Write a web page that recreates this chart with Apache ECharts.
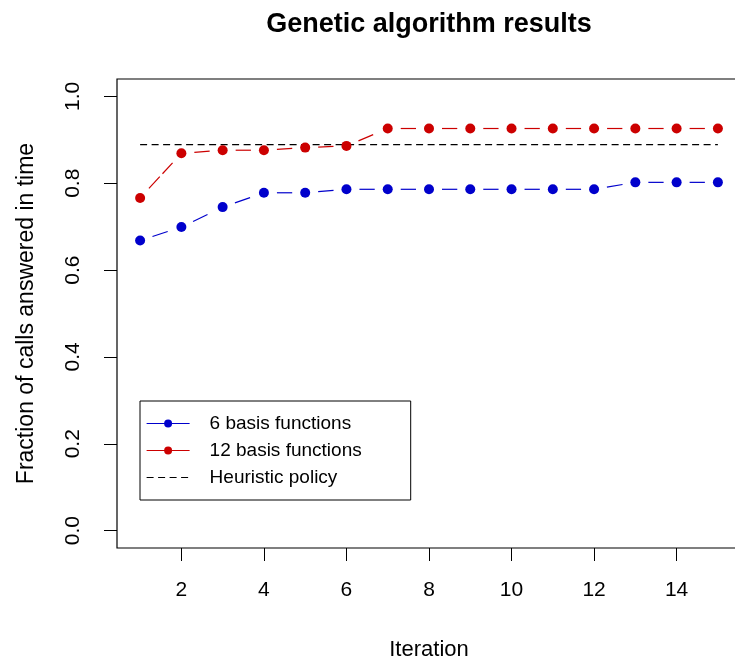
<!DOCTYPE html>
<html>
<head>
<meta charset="utf-8">
<title>Genetic algorithm results</title>
<script src="https://cdn.jsdelivr.net/npm/echarts@6/dist/echarts.min.js"></script>
<style>
  html, body { margin: 0; padding: 0; background: #fff; }
  #chart { width: 735px; height: 660px; }
</style>
</head>
<body>
<div id="chart"></div>
<script>
// Iterations of the genetic algorithm
const iterations = [1, 2, 3, 4, 5, 6, 7, 8, 9, 10, 11, 12, 13, 14, 15];
// Fraction of calls answered in time for each policy
const basis6  = [0.668, 0.699, 0.745, 0.778, 0.778, 0.786, 0.786, 0.786, 0.786, 0.786, 0.786, 0.786, 0.802, 0.802, 0.802];
const basis12 = [0.766, 0.869, 0.876, 0.876, 0.882, 0.886, 0.926, 0.926, 0.926, 0.926, 0.926, 0.926, 0.926, 0.926, 0.926];
const heuristicValue = 0.889;
// Axis ticks
const xTicks = [2, 4, 6, 8, 10, 12, 14];
const yTicks = [0, 0.2, 0.4, 0.6, 0.8, 1.0];

const BLUE = '#0000cc';
const RED = '#cc0000';
const FONT = '"Liberation Sans", Arial, sans-serif';
const GAP = 13; // empty space left around each point on the connecting segments

// Connecting segments between consecutive points, trimmed near each point
function segmentSeries(values, color) {
  const data = values.slice(0, -1).map((v, i) => [iterations[i], v, iterations[i + 1], values[i + 1]]);
  return {
    type: 'custom',
    silent: true,
    z: 2,
    data: data,
    encode: { x: [0, 2], y: [1, 3] },
    renderItem: function (params, api) {
      const a = api.coord([api.value(0), api.value(1)]);
      const b = api.coord([api.value(2), api.value(3)]);
      const dx = b[0] - a[0], dy = b[1] - a[1];
      const len = Math.hypot(dx, dy);
      const ux = dx / len, uy = dy / len;
      return {
        type: 'line',
        shape: {
          x1: a[0] + ux * GAP, y1: a[1] + uy * GAP,
          x2: b[0] - ux * GAP, y2: b[1] - uy * GAP
        },
        style: { stroke: color, lineWidth: 1.2, lineDash: [16, 4] }
      };
    }
  };
}

function pointSeries(name, values, color) {
  return {
    name: name,
    type: 'line',
    z: 3,
    data: iterations.map((x, i) => [x, values[i]]),
    symbol: 'circle',
    symbolSize: 10,
    showAllSymbol: true,
    itemStyle: { color: color },
    lineStyle: { color: color, width: 0, opacity: 0 },
    emphasis: { disabled: true }
  };
}

const chart = echarts.init(document.getElementById('chart'), null, { renderer: 'canvas' });

chart.setOption({
  animation: false,
  backgroundColor: '#fff',
  textStyle: { fontFamily: FONT, color: '#000' },
  title: {
    text: 'Genetic algorithm results',
    left: 429,
    top: 11,
    padding: 0,
    textAlign: 'center',
    textStyle: { fontFamily: FONT, fontSize: 27, fontWeight: 'bold', color: '#000' }
  },
  grid: {
    left: 117, top: 79, width: 624, height: 469,
    outerBoundsMode: 'none',
    containLabel: false,
    show: true, borderColor: '#000', borderWidth: 1.2, backgroundColor: 'transparent'
  },
  legend: {
    orient: 'vertical',
    left: 140,
    top: 401,
    padding: [13, 49, 13, 6],
    borderColor: '#000',
    borderWidth: 1,
    itemWidth: 43,
    itemHeight: 10,
    itemGap: 8,
    selectedMode: false,
    textStyle: { fontFamily: FONT, fontSize: 19, color: '#000', padding: [0, 0, 0, 15] },
    data: [
      { name: '6 basis functions', lineStyle: { color: BLUE, width: 1.2, opacity: 1, type: 'solid' }, itemStyle: { color: BLUE } },
      { name: '12 basis functions', lineStyle: { color: RED, width: 1.2, opacity: 1, type: 'solid' }, itemStyle: { color: RED } },
      { name: 'Heuristic policy', lineStyle: { color: '#000', width: 1.2, opacity: 1, type: [7, 4.5] }, itemStyle: { opacity: 0 } }
    ]
  },
  xAxis: {
    type: 'value',
    min: 0.44,
    max: 15.56,
    name: 'Iteration',
    nameLocation: 'middle',
    nameGap: 91,
    nameTextStyle: { fontFamily: FONT, fontSize: 22, color: '#000' },
    axisLine: { show: false, onZero: false },
    splitLine: { show: false },
    axisTick: { show: true, customValues: xTicks, length: 13, lineStyle: { color: '#000', width: 1 } },
    axisLabel: { customValues: xTicks, fontSize: 21, color: '#000', margin: 42, verticalAlign: 'middle' }
  },
  yAxis: {
    type: 'value',
    min: -0.04,
    max: 1.04,
    name: 'Fraction of calls answered in time',
    nameLocation: 'middle',
    nameGap: 79,
    nameRotate: 90,
    nameTextStyle: { fontFamily: FONT, fontSize: 23, color: '#000' },
    axisLine: { show: false, onZero: false },
    splitLine: { show: false },
    axisTick: { show: true, customValues: yTicks, length: 13, lineStyle: { color: '#000', width: 1 } },
    axisLabel: {
      customValues: yTicks,
      fontSize: 21,
      color: '#000',
      rotate: 90,
      margin: 44,
      align: 'center',
      verticalAlign: 'middle',
      formatter: v => v.toFixed(1)
    }
  },
  series: [
    segmentSeries(basis6, BLUE),
    segmentSeries(basis12, RED),
    pointSeries('6 basis functions', basis6, BLUE),
    pointSeries('12 basis functions', basis12, RED),
    {
      name: 'Heuristic policy',
      type: 'line',
      z: 1,
      data: [[iterations[0], heuristicValue], [iterations[iterations.length - 1], heuristicValue]],
      symbol: 'none',
      lineStyle: { color: '#000', width: 1.2, type: [7, 4.5] },
      emphasis: { disabled: true }
    }
  ]
});
</script>
</body>
</html>
